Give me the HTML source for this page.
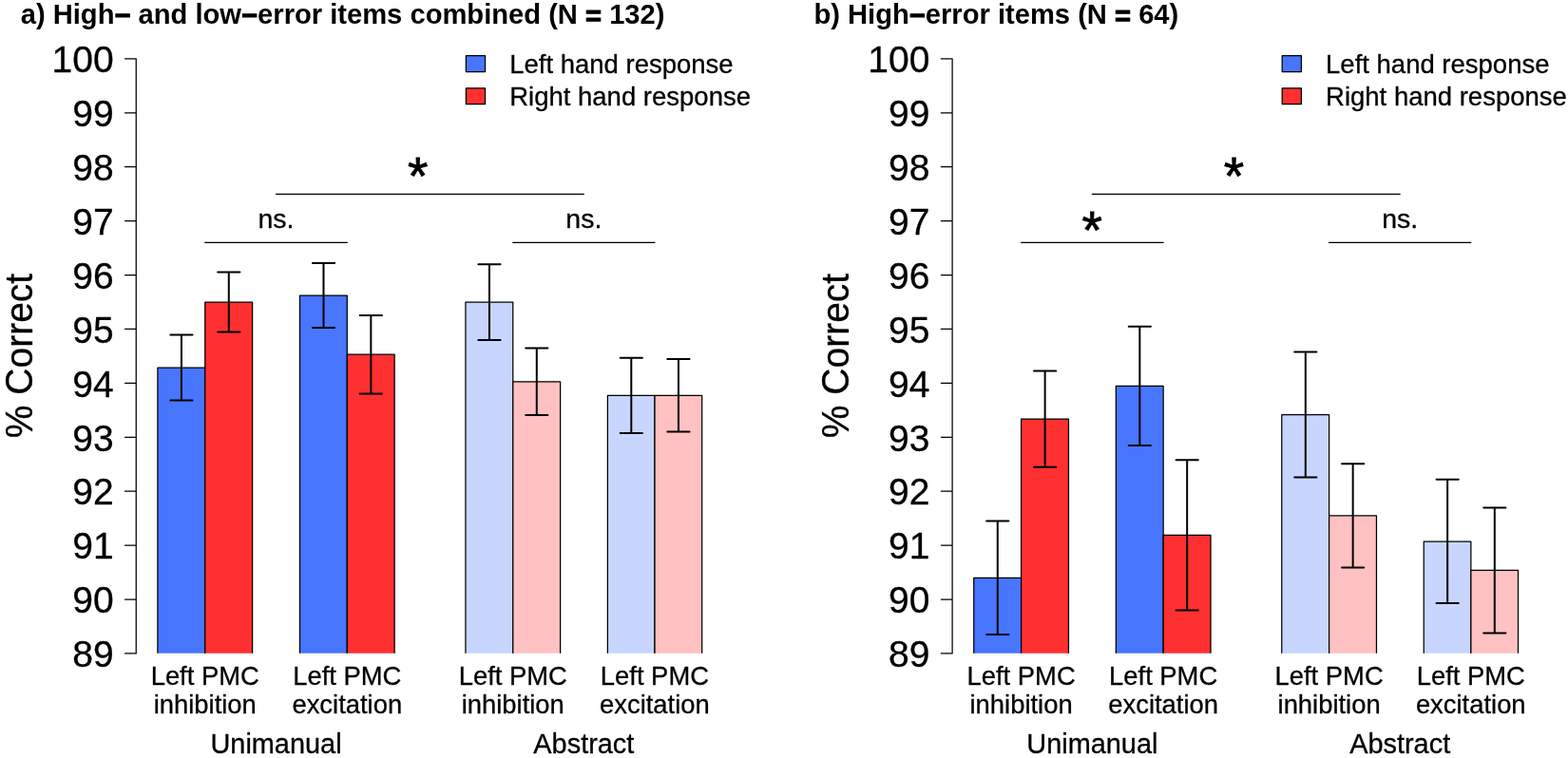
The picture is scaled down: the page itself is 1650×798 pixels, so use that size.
<!DOCTYPE html>
<html lang="en"><head><meta charset="utf-8"><title>Figure</title>
<style>
html,body{margin:0;padding:0;background:#fff;}
body{width:1650px;height:798px;overflow:hidden;}
svg{display:block;}
text{font-family:"Liberation Sans", sans-serif;fill:#000;stroke:#000;stroke-width:0.3;stroke-linejoin:round;}
.ln{stroke:#000;stroke-width:1.25;fill:none;stroke-linecap:round;stroke-linejoin:round;}
.bar{stroke:#000;stroke-width:1.25;stroke-linejoin:round;stroke-linecap:butt;}
.err{stroke:#000;stroke-width:2;fill:none;stroke-linecap:round;}
.t{font-size:29.15px;font-weight:bold;stroke-width:0;}
.mn{stroke-width:1px;}
.ax{font-size:39px;text-anchor:end;}
.yl{font-size:39px;text-anchor:middle;}
.lg{font-size:27.5px;}
.xl{font-size:27.4px;text-anchor:middle;}
.gl{font-size:28.9px;text-anchor:middle;}
.ns{font-size:28.5px;text-anchor:middle;}
.st{font-size:55px;text-anchor:middle;stroke-width:0.8px;stroke-linejoin:miter;}
</style>
</head><body>
<svg width="1650" height="798" viewBox="0 0 1650 798">
<rect width="1650" height="798" fill="#fff"/>
<g transform="translate(0,0)">
<text class="t" x="21.7" y="25">a) High<tspan class="mn" dy="1.3">−</tspan><tspan dy="-1.3"> and low</tspan><tspan class="mn" dy="1.3">−</tspan><tspan dy="-1.3">error items combined (N </tspan><tspan class="mn" dy="1.6">=</tspan><tspan dy="-1.6"> 132)</tspan></text>
<path class="ln" d="M143.25 61.9 V687.91 M131.5 687.91 H143.25 M131.5 631 H143.25 M131.5 574.09 H143.25 M131.5 517.18 H143.25 M131.5 460.27 H143.25 M131.5 403.36 H143.25 M131.5 346.45 H143.25 M131.5 289.54 H143.25 M131.5 232.63 H143.25 M131.5 175.72 H143.25 M131.5 118.81 H143.25 M131.5 61.9 H143.25"/>
<text class="ax" x="119.6" y="702">89</text>
<text class="ax" x="119.6" y="645">90</text>
<text class="ax" x="119.6" y="588">91</text>
<text class="ax" x="119.6" y="531">92</text>
<text class="ax" x="119.6" y="475">93</text>
<text class="ax" x="119.6" y="418">94</text>
<text class="ax" x="119.6" y="361">95</text>
<text class="ax" x="119.6" y="304">96</text>
<text class="ax" x="119.6" y="247">97</text>
<text class="ax" x="119.6" y="190">98</text>
<text class="ax" x="119.6" y="133">99</text>
<text class="ax" x="119.6" y="76">100</text>
<text class="yl" transform="translate(34.2,374.5) rotate(-90) scale(1,1.04)">% Correct</text>
<path class="bar" fill="#4876FF" d="M165.9 687.8 V387 H215.75 V687.8"/>
<path class="bar" fill="#FF3030" d="M215.75 687.8 V318.2 H265.6 V687.8"/>
<path class="bar" fill="#4876FF" d="M315.45 687.8 V311 H365.3 V687.8"/>
<path class="bar" fill="#FF3030" d="M365.3 687.8 V373.2 H415.15 V687.8"/>
<path class="bar" fill="#C8D6FF" d="M489.93 687.8 V318.2 H539.78 V687.8"/>
<path class="bar" fill="#FFC1C1" d="M539.77 687.8 V401.8 H589.62 V687.8"/>
<path class="bar" fill="#C8D6FF" d="M639.4 687.8 V416.3 H689 V687.8"/>
<path class="bar" fill="#FFC1C1" d="M689 687.8 V416.3 H738.7 V687.8"/>
<path class="err" d="M190.93 352.4 V421.4 M179.33 352.4 H202.53 M179.33 421.4 H202.53"/>
<path class="err" d="M240.78 286.6 V349.4 M229.18 286.6 H252.38 M229.18 349.4 H252.38"/>
<path class="err" d="M340.48 277.1 V345 M328.88 277.1 H352.08 M328.88 345 H352.08"/>
<path class="err" d="M390.33 331.9 V414.4 M378.73 331.9 H401.93 M378.73 414.4 H401.93"/>
<path class="err" d="M514.95 278.3 V358 M503.35 278.3 H526.55 M503.35 358 H526.55"/>
<path class="err" d="M564.8 366.6 V437.1 M553.2 366.6 H576.4 M553.2 437.1 H576.4"/>
<path class="err" d="M664.3 376.8 V455.9 M652.7 376.8 H675.9 M652.7 455.9 H675.9"/>
<path class="err" d="M713.95 377.9 V454.5 M702.35 377.9 H725.55 M702.35 454.5 H725.55"/>
<rect class="bar" x="490.35" y="58.6" width="20.2" height="16.9" fill="#4876FF"/>
<rect class="bar" x="490.35" y="92.8" width="20.2" height="16.9" fill="#FF3030"/>
<text class="lg" x="536.2" y="77">Left hand response</text>
<text class="lg" x="536.2" y="111">Right hand response</text>
<path class="ln" d="M215.75 255.4 H365.3 M539.77 255.4 H688.9 M290.52 204.25 H614.34"/>
<text class="ns" x="290.52" y="240">ns.</text>
<text class="ns" x="614.34" y="240">ns.</text>
<text class="st" x="439.7" y="204">*</text>
<text class="xl" x="215.75" y="721">Left PMC</text>
<text class="xl" x="215.75" y="751">inhibition</text>
<text class="xl" x="365.3" y="721">Left PMC</text>
<text class="xl" x="365.3" y="751">excitation</text>
<text class="xl" x="539.77" y="721">Left PMC</text>
<text class="xl" x="539.77" y="751">inhibition</text>
<text class="xl" x="688.9" y="721">Left PMC</text>
<text class="xl" x="688.9" y="751">excitation</text>
<text class="gl" x="290.52" y="793">Unimanual</text>
<text class="gl" x="614.34" y="793">Abstract</text>
</g>
<g transform="translate(858.85,0)">
<text class="t" x="-2.4" y="25">b) High<tspan class="mn" dy="1.3">−</tspan><tspan dy="-1.3">error items (N </tspan><tspan class="mn" dy="1.6">=</tspan><tspan dy="-1.6"> 64)</tspan></text>
<path class="ln" d="M143.25 61.9 V687.91 M131.5 687.91 H143.25 M131.5 631 H143.25 M131.5 574.09 H143.25 M131.5 517.18 H143.25 M131.5 460.27 H143.25 M131.5 403.36 H143.25 M131.5 346.45 H143.25 M131.5 289.54 H143.25 M131.5 232.63 H143.25 M131.5 175.72 H143.25 M131.5 118.81 H143.25 M131.5 61.9 H143.25"/>
<text class="ax" x="119.6" y="702">89</text>
<text class="ax" x="119.6" y="645">90</text>
<text class="ax" x="119.6" y="588">91</text>
<text class="ax" x="119.6" y="531">92</text>
<text class="ax" x="119.6" y="475">93</text>
<text class="ax" x="119.6" y="418">94</text>
<text class="ax" x="119.6" y="361">95</text>
<text class="ax" x="119.6" y="304">96</text>
<text class="ax" x="119.6" y="247">97</text>
<text class="ax" x="119.6" y="190">98</text>
<text class="ax" x="119.6" y="133">99</text>
<text class="ax" x="119.6" y="76">100</text>
<text class="yl" transform="translate(34.2,374.5) rotate(-90) scale(1,1.04)">% Correct</text>
<path class="bar" fill="#4876FF" d="M165.9 687.8 V608.3 H215.75 V687.8"/>
<path class="bar" fill="#FF3030" d="M215.75 687.8 V441.1 H265.6 V687.8"/>
<path class="bar" fill="#4876FF" d="M315.45 687.8 V406.3 H365.3 V687.8"/>
<path class="bar" fill="#FF3030" d="M365.3 687.8 V563.4 H415.15 V687.8"/>
<path class="bar" fill="#C8D6FF" d="M489.93 687.8 V436.5 H539.78 V687.8"/>
<path class="bar" fill="#FFC1C1" d="M539.77 687.8 V542.9 H589.62 V687.8"/>
<path class="bar" fill="#C8D6FF" d="M639.4 687.8 V570.2 H689 V687.8"/>
<path class="bar" fill="#FFC1C1" d="M689 687.8 V600.4 H738.7 V687.8"/>
<path class="err" d="M190.93 548.6 V668.1 M179.33 548.6 H202.53 M179.33 668.1 H202.53"/>
<path class="err" d="M240.78 390.4 V491.7 M229.18 390.4 H252.38 M229.18 491.7 H252.38"/>
<path class="err" d="M340.48 343.8 V468.9 M328.88 343.8 H352.08 M328.88 468.9 H352.08"/>
<path class="err" d="M390.33 484.3 V642.5 M378.73 484.3 H401.93 M378.73 642.5 H401.93"/>
<path class="err" d="M514.95 370.5 V502.5 M503.35 370.5 H526.55 M503.35 502.5 H526.55"/>
<path class="err" d="M564.8 488.3 V597.5 M553.2 488.3 H576.4 M553.2 597.5 H576.4"/>
<path class="err" d="M664.3 504.8 V635.1 M652.7 504.8 H675.9 M652.7 635.1 H675.9"/>
<path class="err" d="M713.95 534.4 V666.4 M702.35 534.4 H725.55 M702.35 666.4 H725.55"/>
<rect class="bar" x="490.35" y="58.6" width="20.2" height="16.9" fill="#4876FF"/>
<rect class="bar" x="490.35" y="92.8" width="20.2" height="16.9" fill="#FF3030"/>
<text class="lg" x="536.2" y="77">Left hand response</text>
<text class="lg" x="536.2" y="111">Right hand response</text>
<path class="ln" d="M215.75 255.4 H365.3 M539.77 255.4 H688.9 M290.52 204.25 H614.34"/>
<text class="st" x="290.3" y="261">*</text>
<text class="ns" x="614.34" y="240">ns.</text>
<text class="st" x="439.7" y="204">*</text>
<text class="xl" x="215.75" y="721">Left PMC</text>
<text class="xl" x="215.75" y="751">inhibition</text>
<text class="xl" x="365.3" y="721">Left PMC</text>
<text class="xl" x="365.3" y="751">excitation</text>
<text class="xl" x="539.77" y="721">Left PMC</text>
<text class="xl" x="539.77" y="751">inhibition</text>
<text class="xl" x="688.9" y="721">Left PMC</text>
<text class="xl" x="688.9" y="751">excitation</text>
<text class="gl" x="290.52" y="793">Unimanual</text>
<text class="gl" x="614.34" y="793">Abstract</text>
</g>
</svg>
</body></html>
